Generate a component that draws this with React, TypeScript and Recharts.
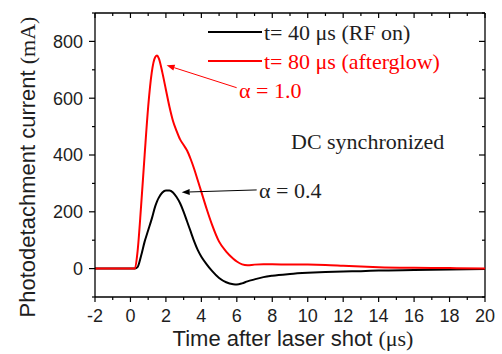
import React from 'react'
import { LineChart, Line, XAxis, YAxis, ReferenceLine } from 'recharts'

// time after laser shot (µs)
const timeUs = [
  -2, 0, 0.25, 0.4, 0.6, 0.8, 1.0, 1.2, 1.4, 1.5, 1.6, 1.8, 2.0, 2.2, 2.4, 2.6, 2.8, 3.0, 3.2, 3.4,
  3.6, 3.8, 4.0, 4.3, 4.6, 5.0, 5.4, 5.8, 6.0, 6.3, 6.6, 7, 7.5, 8, 9, 10, 11, 12, 13, 14, 16, 18, 20,
]
// t = 40 µs (RF on), mA
const rfOn = [
  0, 0, 0, 5, 45, 95, 135, 175, 220, 237, 250, 268, 275, 275, 268, 252, 230, 200, 165, 130,
  95, 65, 42, 15, -8, -33, -48, -55, -56, -52, -45, -38, -30, -25, -19, -15, -12, -10, -9, -7, -5, -3, -1,
]
// t = 80 µs (afterglow), mA
const afterglow = [
  0, 0, 0, 60, 220, 400, 570, 690, 745, 750, 740, 690, 630, 570, 520, 485, 455, 435, 415, 385,
  350, 310, 270, 210, 155, 95, 60, 35, 25, 15, 12, 14, 15, 15, 14, 14, 13, 10, 7, 5, 3, 2, 0,
]

const xMajor = [-2, 0, 2, 4, 6, 8, 10, 12, 14, 16, 18, 20]
const xMinor = [-1, 1, 3, 5, 7, 9, 11, 13, 15, 17, 19]
const yMajor = [0, 200, 400, 600, 800]
const yMinor = [-100, 100, 300, 500, 700, 900]

// arrow annotations: tail -> tip, data units
const arrowRed = [[5.99, 637], [2.04, 716]]
const arrowBlack = [[7.12, 277], [2.89, 269]]

const data = timeUs.map((t, i) => ({ t, rfOn: rfOn[i], afterglow: afterglow[i] }))

const W = 502
const H = 354
const MARGIN = { top: 13, right: 17, bottom: 0, left: 0 }
const Y_AXIS_W = 95
const X_AXIS_H = 57

const SANS = '"Liberation Sans", Arial, sans-serif'
const SERIF = '"Liberation Serif", "Times New Roman", serif'
const INK = '#1e1e1e'
const X_DOMAIN: [number, number] = [-2, 20]
const Y_DOMAIN: [number, number] = [-100, 900]
const tickLn = { stroke: '#000', strokeWidth: 1.2 }
const axisLn = { stroke: '#000', strokeWidth: 1.3 }
const tickFont = { fontSize: 18, fontFamily: SANS, fill: INK }

// tick lengths are given in px, turned into data units of the plot box
const plotW = W - MARGIN.left - MARGIN.right - Y_AXIS_W
const plotH = H - MARGIN.top - MARGIN.bottom - X_AXIS_H
const dx = (px: number) => (px * (X_DOMAIN[1] - X_DOMAIN[0])) / plotW
const dy = (px: number) => (px * (Y_DOMAIN[1] - Y_DOMAIN[0])) / plotH

function arrowShape(color: string) {
  return (props: any) => {
    const { x1, y1, x2, y2 } = props
    const ang = Math.atan2(y2 - y1, x2 - x1)
    const len = 8
    const w = 3
    const bx = x2 - len * Math.cos(ang)
    const by = y2 - len * Math.sin(ang)
    const px = -Math.sin(ang) * w
    const py = Math.cos(ang) * w
    return (
      <g>
        <line x1={x1} y1={y1} x2={bx} y2={by} stroke={color} strokeWidth={1} />
        <polygon points={`${x2},${y2} ${bx + px},${by + py} ${bx - px},${by - py}`} fill={color} />
      </g>
    )
  }
}

// one short tick as a reference segment
function tick(key: string, a: [number, number], b: [number, number]) {
  return (
    <ReferenceLine
      key={key}
      segment={[{ x: a[0], y: a[1] }, { x: b[0], y: b[1] }]}
      stroke="#000"
      strokeWidth={1.2}
      ifOverflow="visible"
    />
  )
}

export default function App() {
  const [x0, x1] = X_DOMAIN
  const [y0, y1] = Y_DOMAIN
  return (
    <div style={{ position: 'absolute', left: 0, top: 0, width: W, height: H, background: '#fff' }}>
      <LineChart width={W} height={H} data={data} margin={MARGIN}>
        <XAxis dataKey="t" type="number" domain={X_DOMAIN} ticks={xMajor} interval={0}
          height={X_AXIS_H} tickSize={5} tickMargin={7} tick={tickFont} tickLine={tickLn} axisLine={axisLn}
          stroke="#000" />
        <YAxis type="number" domain={Y_DOMAIN} ticks={yMajor} interval={0}
          width={Y_AXIS_W} tickSize={6} tickMargin={6} tick={tickFont} tickLine={tickLn} axisLine={axisLn}
          stroke="#000" />

        {/* top and right frame */}
        <ReferenceLine y={y1} stroke="#000" strokeWidth={1.3} />
        <ReferenceLine x={x1} stroke="#000" strokeWidth={1.3} />

        {/* minor ticks bottom/left (outward), all ticks top/right (inward) */}
        {xMinor.map((v) => tick(`bm${v}`, [v, y0], [v, y0 - dy(3)]))}
        {xMinor.map((v) => tick(`tm${v}`, [v, y1], [v, y1 - dy(3)]))}
        {xMajor.map((v) => tick(`tM${v}`, [v, y1], [v, y1 - dy(5)]))}
        {yMinor.map((v) => tick(`lm${v}`, [x0, v], [x0 - dx(3), v]))}
        {yMinor.map((v) => tick(`rm${v}`, [x1, v], [x1 - dx(3), v]))}
        {yMajor.map((v) => tick(`rM${v}`, [x1, v], [x1 - dx(6), v]))}

        <Line dataKey="rfOn" type="monotone" stroke="#000" strokeWidth={2} dot={false} isAnimationActive={false} />
        <Line dataKey="afterglow" type="monotone" stroke="#ff0000" strokeWidth={2} dot={false}
          isAnimationActive={false} />
        <ReferenceLine
          segment={[{ x: arrowRed[0][0], y: arrowRed[0][1] }, { x: arrowRed[1][0], y: arrowRed[1][1] }]}
          shape={arrowShape('#ff0000')}
        />
        <ReferenceLine
          segment={[{ x: arrowBlack[0][0], y: arrowBlack[0][1] }, { x: arrowBlack[1][0], y: arrowBlack[1][1] }]}
          shape={arrowShape('#000')}
        />
      </LineChart>
      <svg width={W} height={H} style={{ position: 'absolute', left: 0, top: 0, pointerEvents: 'none' }}>
        {/* legend */}
        <line x1={208} x2={262} y1={32} y2={32} stroke="#000" strokeWidth={2} />
        <text x={264} y={39.5} fontSize={22} fontFamily={SERIF} fill={INK}>
          t= 40 μs (RF on)
        </text>
        <line x1={208} x2={262} y1={61} y2={61} stroke="#ff0000" strokeWidth={2} />
        <text x={264} y={68.5} fontSize={22} fontFamily={SERIF} fill="#ff0000">
          t= 80 μs (afterglow)
        </text>
        {/* annotations */}
        <text x={239} y={97.5} fontSize={22} fontFamily={SERIF} fill="#ff0000">
          α = 1.0
        </text>
        <text x={291} y={148.5} fontSize={22} fontFamily={SERIF} fill={INK}>
          DC synchronized
        </text>
        <text x={259} y={198} fontSize={22} fontFamily={SERIF} fill={INK}>
          α = 0.4
        </text>
        {/* axis titles */}
        <text transform="translate(35,167) rotate(-90)" textAnchor="middle" fontSize={22} fontFamily={SANS} fill={INK}>
          Photodetachment current <tspan fontFamily={SERIF}>(mA)</tspan>
        </text>
        <text x={293} y={346} textAnchor="middle" fontSize={22} fontFamily={SANS} fill={INK}>
          Time after laser shot <tspan fontFamily={SERIF}>(μs)</tspan>
        </text>
      </svg>
    </div>
  )
}
